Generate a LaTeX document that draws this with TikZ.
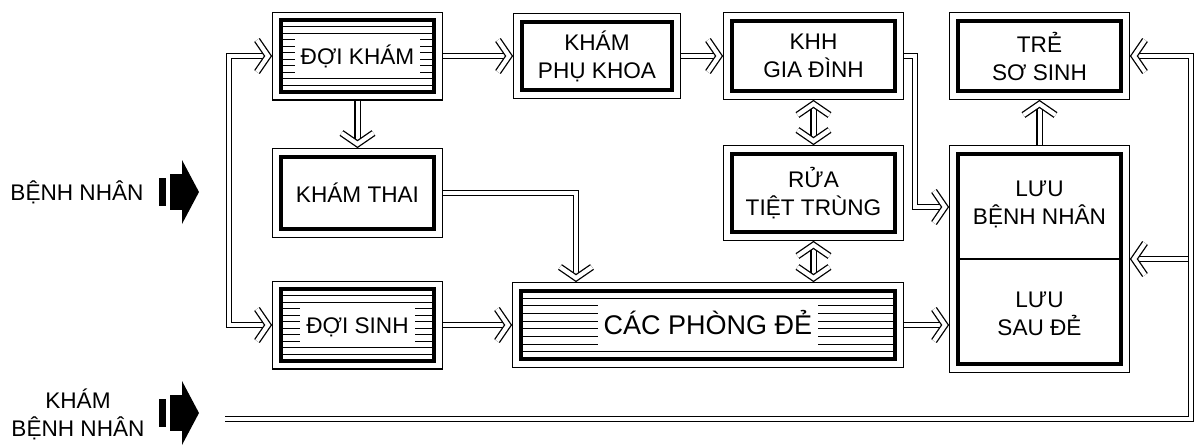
\documentclass[tikz,border=0pt]{standalone}
\usepackage{fontspec}
\setmainfont{Liberation Sans}
\usetikzlibrary{arrows.meta,calc,positioning}

% hollow chevron tip for the double connectors
\pgfdeclarearrow{
  name = Chev,
  parameters = {},
  setup code = {
    \pgfarrowssettipend{0pt}
    \pgfarrowssetlineend{-3pt}
    \pgfarrowssetbackend{-9pt}
    \pgfarrowssetvisualbackend{-9pt}
    \pgfarrowsupperhullpoint{-9pt}{9.5pt}
    \pgfarrowsupperhullpoint{0pt}{0pt}
  },
  drawing code = {
    \pgfsetdash{}{0pt}\pgfsetbuttcap\pgfsetmiterjoin
    \pgfsetlinewidth{3.4pt}\pgfsetstrokecolor{black}
    \pgfpathmoveto{\pgfqpoint{-7.5pt}{8pt}}
    \pgfpathlineto{\pgfqpoint{-2pt}{0pt}}
    \pgfpathlineto{\pgfqpoint{-7.5pt}{-8pt}}
    \pgfusepathqstroke
    \pgfsetlinewidth{2.1pt}\pgfsetstrokecolor{white}
    \pgfpathmoveto{\pgfqpoint{-7.5pt}{8pt}}
    \pgfpathlineto{\pgfqpoint{-2pt}{0pt}}
    \pgfpathlineto{\pgfqpoint{-7.5pt}{-8pt}}
    \pgfusepathqstroke
  }
}

% white knockout behind text on hatched rooms
\newcommand{\ko}[1]{{\setlength{\fboxsep}{3pt}\colorbox{white}{\rule[-2.5pt]{0pt}{13pt}#1}}}

\begin{document}
\begin{tikzpicture}[
  x=0.5pt, y=-0.5pt,
  room/.style={draw, line width=2pt, fill=white, outer sep=4.35pt, align=center,
               font=\fontsize{11.3}{14}\selectfont,
               preaction={draw, line width=8.7pt},
               preaction={draw, white, line width=7.3pt}},
  hatch/.style={path picture={
      \foreach \k [evaluate=\k as \f using \k/(#1+1)] in {1,...,#1}
        \draw[line width=0.5pt]
          ($(path picture bounding box.north west)!\f!(path picture bounding box.south west)$)
          -- ++(500pt,0);}},
  lbl/.style={align=center, font=\fontsize{11.3}{14}\selectfont},
  conn/.style={double, double distance=2pt, line width=0.65pt},
  arr/.style={conn, -Chev},
  bigarrow/.pic={
    \fill (-40,-14) rectangle (-33,14);
    \fill (-29,-18) rectangle (-16,18);
    \fill (-17,-32) -- (0,0) -- (-17,32) -- cycle;}
]
\useasboundingbox (0,0) rectangle (1195,446);

% ── Rooms ────────────────────────────────────────────────────────────────────
\node[room, hatch=10, minimum width=76.8pt, minimum height=35.8pt] (dk) at (357.5,56) {\ko{ĐỢI KHÁM}};
\node[room, minimum width=75.3pt, minimum height=34.3pt] (kpk) at (597,56) {KHÁM\\PHỤ KHOA};
\node[room, minimum width=81.8pt, minimum height=35.3pt] (khh) at (813.5,56) {KHH\\GIA ĐÌNH};
\node[room, minimum width=81.8pt, minimum height=35.3pt] (tss) at (1039.5,56) {TRẺ\\SƠ SINH};

\node[room, minimum width=76.8pt, minimum height=36.3pt] (kt) at (357.5,193) {KHÁM THAI};
\node[room, minimum width=81.8pt, minimum height=39.3pt] (rtt) at (813.5,193) {RỬA\\TIỆT TRÙNG};
\node[room, minimum width=81.8pt, minimum height=105.3pt] (luu) at (1039.5,259) {};
\node[lbl] (luubn) at ([yshift=27.5pt]luu.center) {LƯU\\BỆNH NHÂN};
\node[lbl] (luusd) at ([yshift=-27.5pt]luu.center) {LƯU\\SAU ĐẺ};
\draw[line width=1pt] ([xshift=4.35pt]luu.west) -- ([xshift=-4.35pt]luu.east);

\node[room, hatch=10, minimum width=76.8pt, minimum height=35.8pt] (ds) at (357.5,325) {\ko{ĐỢI SINH}};
\node[room, hatch=8, minimum width=187.3pt, minimum height=34.3pt,
      font=\fontsize{13.5}{16}\selectfont] (cpd) at (708,325) {\ko{CÁC PHÒNG ĐẺ}};

% ── Patients coming in ───────────────────────────────────────────────────────
\node[lbl] (bn) at (77,192) {BỆNH NHÂN};
\pic (bnarrow) at (199,192) {bigarrow};
\node[lbl] (kbn) at (78,414) {KHÁM\\BỆNH NHÂN};
\pic (kbnarrow) at (199,413) {bigarrow};

\coordinate (bus) at (229,190);
\coordinate (kink) at (915,207);
\coordinate (kbnin) at (225,419);
\coordinate (loop) at (1191,419);

% ── Connectors ───────────────────────────────────────────────────────────────
\draw[conn, Chev-Chev] (dk.west) -| (bus) |- (ds.west);
\draw[arr] (dk) -- (kpk);
\draw[arr] (kpk) -- (khh);
\draw[arr] (dk) -- (kt);
\draw[conn, Chev-Chev] (khh) -- (rtt);
\draw[conn, Chev-Chev] (rtt.south) -- (rtt.south |- cpd.north);
\draw[arr] (kt.east) -| ([xshift=32pt]cpd.north west);
\draw[arr] (ds) -- (cpd);
\draw[arr] (cpd.east) -- (cpd.east -| luu.west);
\draw[arr] (khh.east) -| (kink) -- (kink -| luu.west);
\draw[arr] (luu) -- (tss);
\draw[arr] (loop |- luu.east) -- (luu.east);
\draw[arr] (kbnin) -- (loop) |- (tss.east);
\end{tikzpicture}
\end{document}
